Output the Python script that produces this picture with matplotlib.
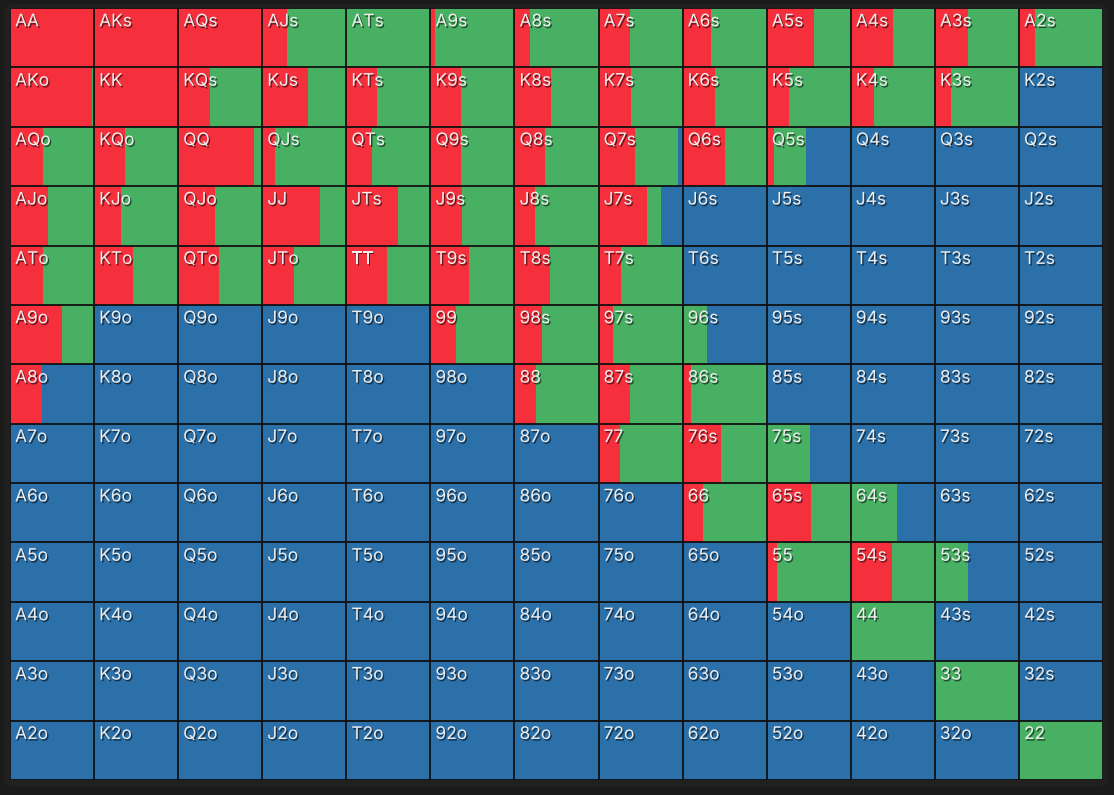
import matplotlib
matplotlib.use("Agg")
import matplotlib.pyplot as plt
import matplotlib.patheffects as pe
from matplotlib.patches import FancyBboxPatch
import numpy as np

plt.rcParams['font.family'] = ['Inter', 'DejaVu Sans']

ranks = ['A', 'K', 'Q', 'J', 'T', '9', '8', '7', '6', '5', '4', '3', '2']

# share of each hand that raises / calls (fold is the rest)
raise_freq = [
    [1.00, 1.00, 1.00, 0.29, 0.00, 0.06, 0.19, 0.37, 0.34, 0.56, 0.50, 0.40, 0.19],
    [0.97, 1.00, 0.38, 0.54, 0.37, 0.37, 0.44, 0.39, 0.38, 0.27, 0.28, 0.19, 0.00],
    [0.39, 0.37, 0.90, 0.15, 0.31, 0.36, 0.36, 0.43, 0.51, 0.09, 0.00, 0.00, 0.00],
    [0.45, 0.32, 0.44, 0.69, 0.61, 0.38, 0.24, 0.58, 0.00, 0.00, 0.00, 0.00, 0.00],
    [0.39, 0.46, 0.48, 0.38, 0.48, 0.46, 0.42, 0.27, 0.00, 0.00, 0.00, 0.00, 0.00],
    [0.62, 0.00, 0.00, 0.00, 0.00, 0.31, 0.33, 0.17, 0.00, 0.00, 0.00, 0.00, 0.00],
    [0.38, 0.00, 0.00, 0.00, 0.00, 0.00, 0.26, 0.37, 0.10, 0.00, 0.00, 0.00, 0.00],
    [0.00, 0.00, 0.00, 0.00, 0.00, 0.00, 0.00, 0.25, 0.46, 0.00, 0.00, 0.00, 0.00],
    [0.00, 0.00, 0.00, 0.00, 0.00, 0.00, 0.00, 0.00, 0.24, 0.53, 0.00, 0.00, 0.00],
    [0.00, 0.00, 0.00, 0.00, 0.00, 0.00, 0.00, 0.00, 0.00, 0.12, 0.49, 0.00, 0.00],
    [0.00, 0.00, 0.00, 0.00, 0.00, 0.00, 0.00, 0.00, 0.00, 0.00, 0.00, 0.00, 0.00],
    [0.00, 0.00, 0.00, 0.00, 0.00, 0.00, 0.00, 0.00, 0.00, 0.00, 0.00, 0.00, 0.00],
    [0.00, 0.00, 0.00, 0.00, 0.00, 0.00, 0.00, 0.00, 0.00, 0.00, 0.00, 0.00, 0.00],
]
call_freq = [
    [0.00, 0.00, 0.00, 0.71, 1.00, 0.94, 0.81, 0.63, 0.66, 0.44, 0.50, 0.60, 0.81],
    [0.03, 0.00, 0.62, 0.46, 0.63, 0.63, 0.56, 0.61, 0.62, 0.73, 0.72, 0.81, 0.00],
    [0.61, 0.63, 0.10, 0.85, 0.69, 0.64, 0.64, 0.52, 0.49, 0.38, 0.00, 0.00, 0.00],
    [0.55, 0.68, 0.56, 0.31, 0.39, 0.62, 0.76, 0.16, 0.00, 0.00, 0.00, 0.00, 0.00],
    [0.61, 0.54, 0.52, 0.62, 0.52, 0.54, 0.58, 0.73, 0.00, 0.00, 0.00, 0.00, 0.00],
    [0.38, 0.00, 0.00, 0.00, 0.00, 0.69, 0.67, 0.83, 0.29, 0.00, 0.00, 0.00, 0.00],
    [0.00, 0.00, 0.00, 0.00, 0.00, 0.00, 0.74, 0.63, 0.90, 0.00, 0.00, 0.00, 0.00],
    [0.00, 0.00, 0.00, 0.00, 0.00, 0.00, 0.00, 0.75, 0.54, 0.52, 0.00, 0.00, 0.00],
    [0.00, 0.00, 0.00, 0.00, 0.00, 0.00, 0.00, 0.00, 0.76, 0.47, 0.55, 0.00, 0.00],
    [0.00, 0.00, 0.00, 0.00, 0.00, 0.00, 0.00, 0.00, 0.00, 0.88, 0.51, 0.39, 0.00],
    [0.00, 0.00, 0.00, 0.00, 0.00, 0.00, 0.00, 0.00, 0.00, 0.00, 1.00, 0.00, 0.00],
    [0.00, 0.00, 0.00, 0.00, 0.00, 0.00, 0.00, 0.00, 0.00, 0.00, 0.00, 1.00, 0.00],
    [0.00, 0.00, 0.00, 0.00, 0.00, 0.00, 0.00, 0.00, 0.00, 0.00, 0.00, 0.00, 1.00],
]

RAISE_C = '#f52f3c'
CALL_C = '#48b063'
FOLD_C = '#2c70a9'
BG = '#1b1b1b'

W, H = 1114, 795
fig = plt.figure(figsize=(W / 100, H / 100), dpi=100, facecolor=BG)

# panel behind the grid
bg_ax = fig.add_axes([0, 0, 1, 1])
bg_ax.set_xlim(0, W)
bg_ax.set_ylim(H, 0)
bg_ax.axis('off')
bg_ax.add_patch(FancyBboxPatch((4, 4), W - 10, H - 12,
                               boxstyle='round,pad=0,rounding_size=10',
                               facecolor='#202020', edgecolor='none'))

x0, x1, y0, y1 = 10, 1103, 8, 780
ax = fig.add_axes([x0 / W, 1 - y1 / H, (x1 - x0) / W, (y1 - y0) / H])
ax.set_xlim(0, 13)
ax.set_ylim(13, 0)
ax.axis('off')

raise_arr = np.array(raise_freq)
call_arr = np.array(call_freq)
fold_arr = np.clip(1 - raise_arr - call_arr, 0, 1)
cols = np.arange(13)

for r in range(13):
    ys = np.full(13, r + 0.5)
    ax.barh(ys, raise_arr[r], left=cols, height=1, color=RAISE_C, linewidth=0)
    ax.barh(ys, call_arr[r], left=cols + raise_arr[r], height=1, color=CALL_C, linewidth=0)
    ax.barh(ys, fold_arr[r], left=cols + raise_arr[r] + call_arr[r], height=1,
            color=FOLD_C, linewidth=0)

# cell borders
for k in range(14):
    ax.axvline(k, color='#111111', lw=1.3, zorder=3)
    ax.axhline(k, color='#111111', lw=1.3, zorder=3)

shadow = [pe.withSimplePatchShadow(offset=(1, -1.2), shadow_rgbFace='black', alpha=0.55)]
for r in range(13):
    for c in range(13):
        if r == c:
            label = ranks[r] + ranks[c]
        elif c > r:
            label = ranks[r] + ranks[c] + 's'
        else:
            label = ranks[c] + ranks[r] + 'o'
        ax.text(c + 0.06, r + 0.09, label, ha='left', va='top', fontsize=12.5,
                color='#eeeeee', zorder=4, path_effects=shadow)

fig.savefig('out.png', dpi=100, facecolor=BG)
